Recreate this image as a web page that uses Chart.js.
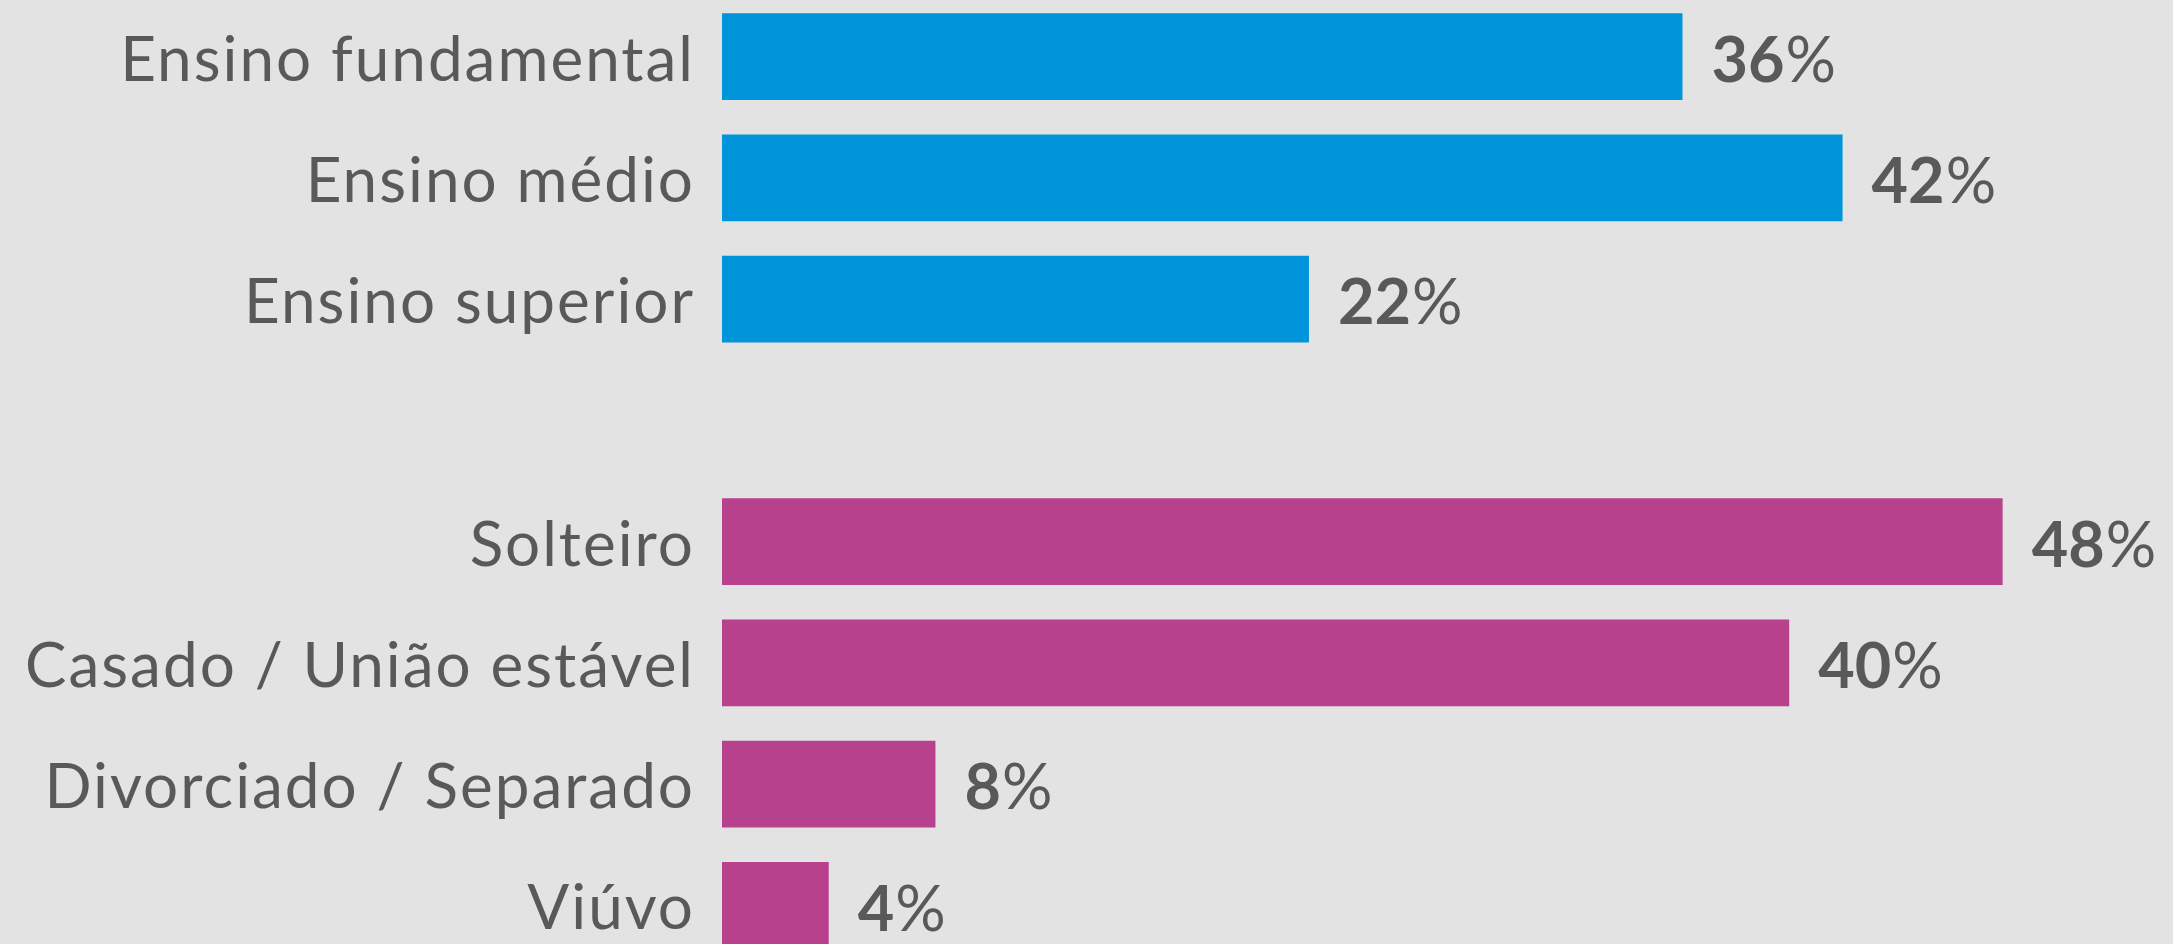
<!DOCTYPE html>
<html>
<head>
<meta charset="utf-8">
<script src="https://cdn.jsdelivr.net/npm/chart.js@4/dist/chart.umd.min.js"></script>
<style>
  html, body { margin: 0; padding: 0; background: #e3e3e3; overflow: hidden; width: 2173px; height: 944px; }
  #wrap { position: absolute; left: 0; top: -4px; width: 2173px; height: 970px; }
</style>
</head>
<body>
<div id="wrap"><canvas id="chart"></canvas></div>
<script>
// data; '' is the spacer row between the two groups
const categories = ['Ensino fundamental', 'Ensino médio', 'Ensino superior', '',
                    'Solteiro', 'Casado / União estável', 'Divorciado / Separado', 'Viúvo'];
const values = [36, 42, 22, null, 48, 40, 8, 4];
const barColors = ['#0095da', '#0095da', '#0095da', '#0095da',
                   '#b8418d', '#b8418d', '#b8418d', '#b8418d'];

const textColor = '#58595b';
const fontFamily = 'Lato, "Noto Sans", sans-serif';
const fontSize = 62;

// the category labels in the original are a bit more spaced out
const tracking = {
    id: 'tracking',
    beforeDraw(chart) {
        chart.ctx.letterSpacing = '2px';
    }
};

// percentage labels: bold number, light percent sign
const valueLabels = {
    id: 'valueLabels',
    afterDatasetsDraw(chart) {
        const ctx = chart.ctx;
        const meta = chart.getDatasetMeta(0);
        meta.data.forEach((bar, i) => {
            if (values[i] == null) return;
            const x = bar.x + 29;
            const y = bar.y + 5;
            ctx.save();
            ctx.letterSpacing = '0px';
            ctx.fillStyle = textColor;
            ctx.textBaseline = 'middle';
            ctx.textAlign = 'left';
            ctx.font = 'bold 63px ' + fontFamily;
            const num = String(values[i]);
            ctx.fillText(num, x, y);
            const w = ctx.measureText(num).width;
            ctx.font = '63px ' + fontFamily;
            ctx.fillText('%', x + w + 1, y);
            ctx.restore();
        });
    }
};

const ctx = document.getElementById('chart').getContext('2d');
new Chart(ctx, {
    type: 'bar',
    data: {
        labels: categories,
        datasets: [{
            data: values,
            backgroundColor: barColors,
            borderWidth: 0,
            barPercentage: 0.7135,
            categoryPercentage: 1.0,
        }]
    },
    options: {
        indexAxis: 'y',
        responsive: true,
        maintainAspectRatio: false,
        animation: false,
        layout: { padding: { left: 0, right: 117, top: 0, bottom: 0 } },
        scales: {
            x: {
                display: false,
                min: 0,
                max: 50,
            },
            y: {
                grid: { display: false, drawTicks: false },
                border: { display: false },
                ticks: {
                    color: textColor,
                    padding: 27,
                    labelOffset: 4,
                    font: { family: fontFamily, size: fontSize },
                },
                afterFit: function (scale) {
                    scale.width = 722;
                    scale.paddingTop = 0;
                    scale.paddingBottom = 0;
                }
            }
        },
        plugins: {
            legend: { display: false },
            tooltip: { enabled: false },
        }
    },
    plugins: [tracking, valueLabels]
});
</script>
</body>
</html>
